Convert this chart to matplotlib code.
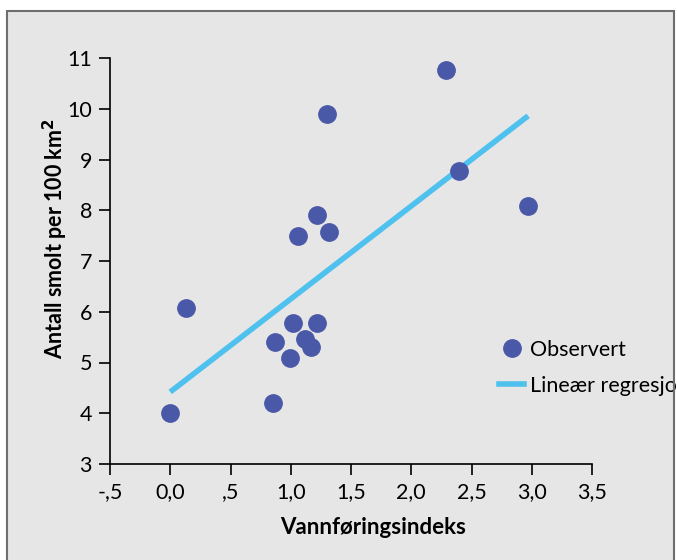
import matplotlib
matplotlib.use('Agg')
import matplotlib.pyplot as plt
from matplotlib.patches import Rectangle
from matplotlib.lines import Line2D
from matplotlib.ticker import FuncFormatter

plt.rcParams['font.family'] = ['Lato', 'DejaVu Sans']

# observasjoner
vannforing = [0.00, 0.13, 0.85, 0.87, 0.99, 1.02, 1.06, 1.12, 1.17, 1.22, 1.22, 1.30, 1.32, 2.29, 2.40, 2.97]
smolt = [4.00, 6.07, 4.20, 5.40, 5.09, 5.78, 7.49, 5.46, 5.31, 7.91, 5.78, 9.90, 7.57, 10.76, 8.77, 8.08]

# regresjonslinje (endepunkter)
reg_x = [0.0, 2.97]
reg_y = [4.42, 9.86]

xticks = [-0.5, 0.0, 0.5, 1.0, 1.5, 2.0, 2.5, 3.0, 3.5]
yticks = [3, 4, 5, 6, 7, 8, 9, 10, 11]

bg = '#e6e6e6'
prikk = '#4a58a8'
linje = '#4fc1ef'

fig = plt.figure(figsize=(6.77, 5.6), dpi=100, facecolor='white')
fig.patches.append(Rectangle((7/677, -0.1), 667/677, 1.1 - 11/560, transform=fig.transFigure,
                             facecolor=bg, edgecolor='none', zorder=-5))
ax = fig.add_axes([110/677, 1 - 464/560, 482/677, 406/560])
ax.set_facecolor('none')

ax.plot(reg_x, reg_y, color=linje, lw=4, solid_capstyle='butt', zorder=2)
ax.plot(vannforing, smolt, 'o', ms=12.5, color=prikk, zorder=3)

ax.set_xlim(-0.5, 3.5)
ax.set_ylim(3, 11)
ax.set_xticks(xticks)
ax.set_yticks(yticks)

def fmt_x(v, pos):
    s = f'{v:.1f}'.replace('.', ',')
    if s.startswith('0,') and v != 0:
        s = s[1:]
    if s.startswith('-0,'):
        s = '-' + s[2:]
    return s

ax.xaxis.set_major_formatter(FuncFormatter(fmt_x))
ax.tick_params(labelsize=15.5, length=8, width=1.2, direction='out', pad=5)
for s in ['top', 'right']:
    ax.spines[s].set_visible(False)
for s in ['left', 'bottom']:
    ax.spines[s].set_linewidth(1.2)

fig.text(373/677, 1 - 528/560, 'Vannføringsindeks', ha='center', va='center',
         fontsize=16, fontweight='bold')
fig.text(55/677, 1 - 239/560, 'Antall smolt per 100 km$^\\mathbf{2}$', ha='center', va='center',
         rotation=90, fontsize=15.5, fontweight='bold')

handles = [Line2D([], [], marker='o', ls='none', ms=12.5, color=prikk),
           Line2D([], [], color=linje, lw=4)]
fig.legend(handles, ['Observert', 'Lineær regresjon'], loc='upper left',
           bbox_to_anchor=(490/677, 1 - 331/560), frameon=False, fontsize=15.5,
           handlelength=1.2, handletextpad=0.25, labelspacing=0.75, borderaxespad=0)

fig.patches.append(Rectangle((7/677, -0.1), 667/677, 1.1 - 11/560, transform=fig.transFigure,
                             facecolor='none', edgecolor='#6e6e6e', lw=1.5, zorder=10))

fig.savefig('out.png', dpi=100, facecolor='white')
